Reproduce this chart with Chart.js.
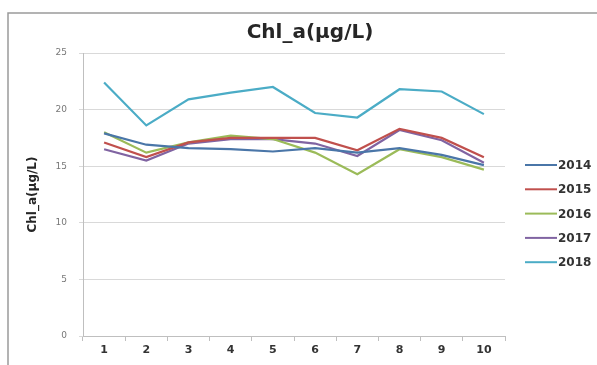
<!DOCTYPE html>
<html>
<head>
<meta charset="utf-8">
<script src="https://cdn.jsdelivr.net/npm/chart.js@4.4.1/dist/chart.umd.min.js"></script>
<style>
  html, body { margin: 0; padding: 0; background: #fff; overflow: hidden; }
  #wrap { width: 597px; height: 365px; position: relative; }
</style>
</head>
<body>
<div id="wrap"><canvas id="chl-chart"></canvas></div>
<script>
const titleText = 'Chl_a(μg/L)';
const months = ['1', '2', '3', '4', '5', '6', '7', '8', '9', '10'];
const yTicks = [0, 5, 10, 15, 20, 25];

const values2014 = [17.9, 16.9, 16.6, 16.5, 16.3, 16.6, 16.2, 16.6, 16.0, 15.1];
const values2015 = [17.1, 15.8, 17.1, 17.5, 17.5, 17.5, 16.4, 18.3, 17.5, 15.8];
const values2016 = [18.0, 16.2, 17.1, 17.7, 17.4, 16.2, 14.3, 16.5, 15.8, 14.7];
const values2017 = [16.5, 15.5, 17.0, 17.4, 17.4, 17.0, 15.9, 18.2, 17.3, 15.3];
const values2018 = [22.4, 18.6, 20.9, 21.5, 22.0, 19.7, 19.3, 21.8, 21.6, 19.6];

const seriesList = [
  { label: '2014', data: values2014, color: '#4a76a8' },
  { label: '2015', data: values2015, color: '#c0504d' },
  { label: '2016', data: values2016, color: '#9bbb59' },
  { label: '2017', data: values2017, color: '#8064a2' },
  { label: '2018', data: values2018, color: '#4bacc6' },
];

const fontFamily = '"DejaVu Sans", Verdana, sans-serif';

// frame, title and legend are drawn by hand so they sit where the original has them
const decorations = {
  id: 'decorations',
  beforeDraw(chart) {
    const { ctx } = chart;
    ctx.save();
    ctx.strokeStyle = '#9a9a9a';
    ctx.lineWidth = 1.5;
    ctx.beginPath();
    ctx.moveTo(8, 365);
    ctx.lineTo(8, 13);
    ctx.lineTo(597, 13);
    ctx.stroke();
    ctx.restore();
  },
  afterDraw(chart) {
    const { ctx } = chart;
    ctx.save();
    ctx.fillStyle = '#262626';
    ctx.font = 'bold 20px ' + fontFamily;
    ctx.textAlign = 'center';
    ctx.textBaseline = 'middle';
    ctx.fillText(titleText, 310, 33);

    ctx.font = 'bold 12px ' + fontFamily;
    ctx.textAlign = 'left';
    chart.data.datasets.forEach((ds, i) => {
      const y = 165 + i * 24.3;
      ctx.strokeStyle = ds.borderColor;
      ctx.lineWidth = 2;
      ctx.beginPath();
      ctx.moveTo(525, y);
      ctx.lineTo(557, y);
      ctx.stroke();
      ctx.fillStyle = '#333';
      ctx.fillText(ds.label, 558, y + 1);
    });
    ctx.restore();
  },
};

new Chart(document.getElementById('chl-chart'), {
  type: 'line',
  data: {
    labels: months,
    datasets: seriesList.map((s) => ({
      label: s.label,
      data: s.data,
      borderColor: s.color,
      backgroundColor: s.color,
      borderWidth: 2.2,
      pointRadius: 0,
      tension: 0,
    })),
  },
  options: {
    responsive: true,
    maintainAspectRatio: false,
    animation: false,
    layout: { padding: { top: 53, right: 92, bottom: 0, left: 0 } },
    plugins: {
      legend: { display: false },
      title: { display: false },
      tooltip: { enabled: false },
    },
    scales: {
      x: {
        offset: true,
        afterFit: (scale) => { scale.height = 29; },
        grid: { offset: true, drawOnChartArea: false, drawTicks: true, tickLength: 5, color: '#bfbfbf' },
        border: { display: true, color: '#bfbfbf' },
        ticks: { color: '#333', padding: 3, font: { family: fontFamily, size: 11, weight: 'bold' } },
      },
      y: {
        min: 0,
        max: 25,
        afterFit: (scale) => { scale.width = 83; },
        afterBuildTicks: (scale) => { scale.ticks = yTicks.map((v) => ({ value: v })); },
        grid: { color: '#d9d9d9', tickLength: 4, drawTicks: true },
        border: { display: true, color: '#bfbfbf' },
        ticks: { color: '#777', padding: 12, font: { family: fontFamily, size: 9 } },
        title: {
          display: true,
          text: titleText,
          color: '#262626',
          padding: { top: 26, bottom: 0 },
          font: { family: fontFamily, size: 12, weight: 'bold' },
        },
      },
    },
  },
  plugins: [decorations],
});
</script>
</body>
</html>
